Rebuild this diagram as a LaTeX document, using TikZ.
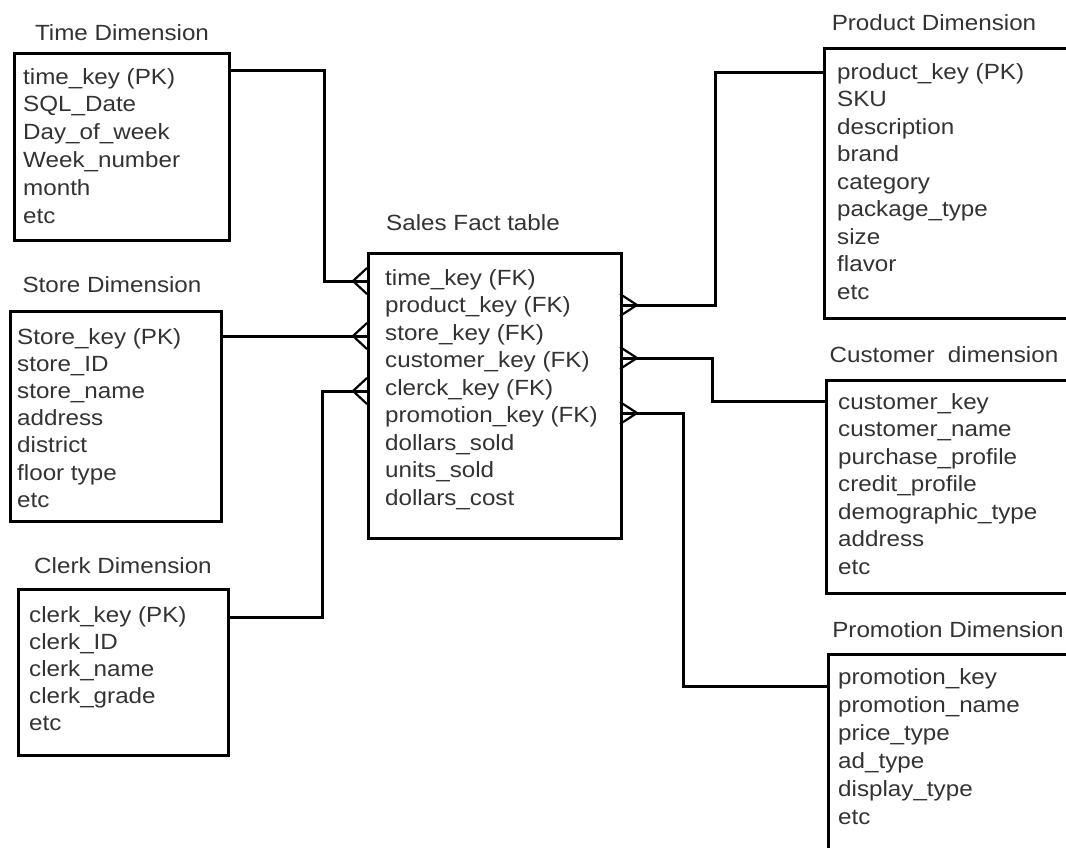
\documentclass[tikz,border=0pt]{standalone}
\usepackage{fontspec}
\setmainfont{Liberation Sans}[FakeStretch=1.1]
\definecolor{txt}{HTML}{333333}
\begin{document}
\begin{tikzpicture}[x=1pt,y=-1pt,
  box/.style={draw=black, line width=3pt, anchor=north west, inner sep=0pt},
  fld/.style={anchor=base west, inner sep=0pt, text=txt, font=\fontsize{22}{26}\selectfont},
  ttl/.style={anchor=base, inner sep=0pt, text=txt, font=\fontsize{22}{26}\selectfont},
  conn/.style={draw=black, line width=3pt},
  foot/.style={draw=black, line width=2.2pt}]
\useasboundingbox[fill=white] (0,0) rectangle (1066,847);

% boxes
\node[box, minimum width=215, minimum height=187] (time) at (13,52) {};
\node[box, minimum width=211, minimum height=210] (store) at (9,310) {};
\node[box, minimum width=210, minimum height=166] (clerk) at (17,588) {};
\node[box, minimum width=253, minimum height=285] (fact) at (367,252) {};
\node[box, minimum width=262, minimum height=270] (product) at (823,47) {};
\node[box, minimum width=260, minimum height=213] (customer) at (825,379) {};
\node[box, minimum width=258, minimum height=215] (promo) at (827,653) {};

% titles
\node[ttl] (timeT) at (122,40) {Time Dimension};
\node[ttl] (storeT) at (112,292) {Store Dimension};
\node[ttl] (clerkT) at (123,573) {Clerk Dimension};
\node[ttl] (factT) at (473,230) {Sales Fact table};
\node[ttl] (productT) at (934,30) {Product Dimension};
\node[ttl] (customerT) at (944,362) {Customer\ \ dimension};
\node[ttl] (promoT) at (948,637) {Promotion Dimension};

% fields
\foreach \t [count=\i from 0] in {time\_key (PK), SQL\_Date, Day\_of\_week, Week\_number, month, etc}
  \node[fld] (time-\i) at (23,84+27.8*\i) {\t};
\foreach \t [count=\i from 0] in {Store\_key (PK), store\_ID, store\_name, address, district, floor type, etc}
  \node[fld] (store-\i) at (17,344+27.2*\i) {\t};
\foreach \t [count=\i from 0] in {clerk\_key (PK), clerk\_ID, clerk\_name, clerk\_grade, etc}
  \node[fld] (clerk-\i) at (29,622+27*\i) {\t};
\foreach \t [count=\i from 0] in {time\_key (FK), product\_key (FK), store\_key (FK), customer\_key (FK), clerck\_key (FK), promotion\_key (FK), dollars\_sold, units\_sold, dollars\_cost}
  \node[fld] (fact-\i) at (385,285+27.5*\i) {\t};
\foreach \t [count=\i from 0] in {product\_key (PK), SKU, description, brand, category, package\_type, size, flavor, etc}
  \node[fld] (product-\i) at (837,79+27.5*\i) {\t};
\foreach \t [count=\i from 0] in {customer\_key, customer\_name, purchase\_profile, credit\_profile, demographic\_type, address, etc}
  \node[fld] (customer-\i) at (838,409+27.5*\i) {\t};
\foreach \t [count=\i from 0] in {promotion\_key, promotion\_name, price\_type, ad\_type, display\_type, etc}
  \node[fld] (promo-\i) at (838,684+28*\i) {\t};

% connectors
\draw[conn] (time.east |- 0,70) -| (324,281) -- (fact.west |- 0,281);
\draw[conn] (store.east |- 0,336) -- (fact.west |- 0,336);
\draw[conn] (clerk.east |- 0,617) -| (322,391) -- (fact.west |- 0,391);
\draw[conn] (fact.east |- 0,305) -| (715,72) -- (product.west |- 0,72);
\draw[conn] (fact.east |- 0,358) -| (712,401) -- (customer.west |- 0,401);
\draw[conn] (fact.east |- 0,413) -| (683,686) -- (promo.west |- 0,686);

% crow's feet
\foreach \y in {281,336,391}
  \draw[foot] (367,\y-13) -- (353,\y) -- (367,\y+13);
\foreach \y in {305,358,413}
  \draw[foot] (620,\y-11) -- (637,\y) -- (620,\y+11);
\end{tikzpicture}
\end{document}
